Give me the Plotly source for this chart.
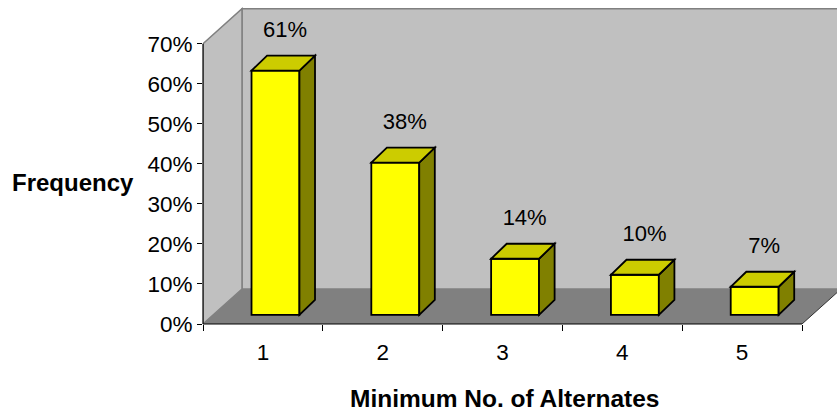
import plotly.graph_objects as go

# Data
categories = ["1", "2", "3", "4", "5"]
frequency = [61, 38, 14, 10, 7]          # percent
y_ticks = [0, 10, 20, 30, 40, 50, 60, 70]
y_tick_text = [f"{v}%" for v in y_ticks]

# Pseudo-3D geometry (data units: category index on x, percent on y)
WALL_TOP = 70          # height of the back/side walls
DEPTH_X, DEPTH_Y = 0.3255, 8.74    # oblique depth of the floor/walls
BAR_W, BAR_OFF = 0.40, -0.095      # bar front face width and offset from category centre
BAR_BASE = 2.3                     # bars stand slightly back on the floor
BAR_DX, BAR_DY = 0.13, 3.75        # bar depth
LABEL_GAP = 12.0

# Plot-area pixel layout
FIG_W, FIG_H = 837, 412
M_L, M_R, M_T, M_B = 203, 0, 6, 88
PX_PER_CAT, PX_PER_PCT = 119.8, 4.003
plot_w = FIG_W - M_L - M_R
plot_h = FIG_H - M_T - M_B
x_range = [-0.5, -0.5 + plot_w / PX_PER_CAT]
y_range = [0, plot_h / PX_PER_PCT]

WALL = "#C0C0C0"
WALL_EDGE = "#808080"
FLOOR = "#808080"
FRONT = "#FFFF00"
TOP = "#CCCC00"
SIDE = "#808000"
FONT = "Liberation Sans, Arial"
OUTLINE = 1.8


def poly(pts):
    return "M " + " L ".join(f"{x},{y}" for x, y in pts) + " Z"


n = len(categories)
x_left, x_right = -0.5, n - 0.5

shapes = []
# back wall
shapes.append(dict(type="rect", xref="x", yref="y", layer="below",
                   x0=x_left + DEPTH_X, x1=x_right + DEPTH_X + 1,
                   y0=DEPTH_Y, y1=WALL_TOP + DEPTH_Y,
                   fillcolor=WALL, line=dict(color=WALL_EDGE, width=1.5)))
# side wall
shapes.append(dict(type="path", xref="x", yref="y", layer="below",
                   path=poly([(x_left, 0), (x_left, WALL_TOP),
                              (x_left + DEPTH_X, WALL_TOP + DEPTH_Y),
                              (x_left + DEPTH_X, DEPTH_Y)]),
                   fillcolor=WALL, line=dict(color=WALL_EDGE, width=1.5)))
# floor
shapes.append(dict(type="path", xref="x", yref="y", layer="below",
                   path=poly([(x_left, 0), (x_right, 0),
                              (x_right + DEPTH_X, DEPTH_Y),
                              (x_left + DEPTH_X, DEPTH_Y)]),
                   fillcolor=FLOOR, line=dict(width=0)))
# floor right edge
shapes.append(dict(type="line", xref="x", yref="y", layer="below",
                   x0=x_right, y0=0, x1=x_right + DEPTH_X, y1=DEPTH_Y,
                   line=dict(color="#303030", width=1)))

# bar top and side faces
for i, v in enumerate(frequency):
    x0 = i + BAR_OFF
    x1 = x0 + BAR_W
    top = BAR_BASE + v
    shapes.append(dict(type="path", xref="x", yref="y", layer="above",
                       path=poly([(x1, BAR_BASE), (x1 + BAR_DX, BAR_BASE + BAR_DY),
                                  (x1 + BAR_DX, top + BAR_DY), (x1, top)]),
                       fillcolor=SIDE, line=dict(color="black", width=OUTLINE)))
    shapes.append(dict(type="path", xref="x", yref="y", layer="above",
                       path=poly([(x0, top), (x1, top),
                                  (x1 + BAR_DX, top + BAR_DY), (x0 + BAR_DX, top + BAR_DY)]),
                       fillcolor=TOP, line=dict(color="black", width=OUTLINE)))

# axis lines (drawn as shapes so they stop at the floor/wall edges)
shapes.append(dict(type="line", xref="paper", yref="y", layer="above",
                   x0=0, x1=0, y0=0, y1=WALL_TOP, line=dict(color="black", width=1.2)))
shapes.append(dict(type="line", xref="x", yref="paper", layer="above",
                   x0=x_left, x1=x_right, y0=0, y1=0, line=dict(color="black", width=1.2)))

fig = go.Figure()
fig.add_trace(go.Bar(
    x=list(range(n)), y=frequency, base=[BAR_BASE] * n,
    width=BAR_W, offset=BAR_OFF,
    marker=dict(color=FRONT, line=dict(color="black", width=OUTLINE)),
    hoverinfo="skip", showlegend=False,
))
fig.add_trace(go.Scatter(
    x=[i + BAR_OFF + BAR_W / 2 + 0.08 for i in range(n)],
    y=[v + LABEL_GAP for v in frequency],
    text=[f"{v}%" for v in frequency],
    mode="text", textposition="middle center",
    textfont=dict(family=FONT, size=22, color="black"),
    hoverinfo="skip", showlegend=False,
))

fig.update_layout(
    width=FIG_W, height=FIG_H,
    margin=dict(l=M_L, r=M_R, t=M_T, b=M_B, pad=0),
    paper_bgcolor="white", plot_bgcolor="white",
    font=dict(family=FONT, size=22.5, color="black"),
    shapes=shapes,
    xaxis=dict(
        range=x_range, tickmode="array", tickvals=list(range(n)), ticktext=categories,
        showgrid=False, zeroline=False, showline=False,
        ticks="", ticklabelstandoff=12,
        minor=dict(tickmode="array", tickvals=[i - 0.5 for i in range(n + 1)],
                   ticks="outside", ticklen=6, tickcolor="black", tickwidth=1.2,
                   showgrid=False),
    ),
    yaxis=dict(
        range=y_range, tickmode="array", tickvals=y_ticks, ticktext=y_tick_text,
        showgrid=False, zeroline=False, showline=False,
        ticks="outside", ticklen=5, tickcolor="black", tickwidth=1.2,
    ),
    annotations=[
        dict(text="<b>Frequency</b>", xref="paper", yref="paper",
             x=(73 - M_L) / plot_w, y=(FIG_H - M_B - 182) / plot_h,
             showarrow=False, xanchor="center", yanchor="middle",
             font=dict(family=FONT, size=24, color="black")),
        dict(text="<b>Minimum No. of Alternates</b>", xref="paper", yref="paper",
             x=(504 - M_L) / plot_w, y=-(398 - (FIG_H - M_B)) / plot_h,
             showarrow=False, xanchor="center", yanchor="middle",
             font=dict(family=FONT, size=24.5, color="black")),
    ],
)

fig.write_html("out.html")
